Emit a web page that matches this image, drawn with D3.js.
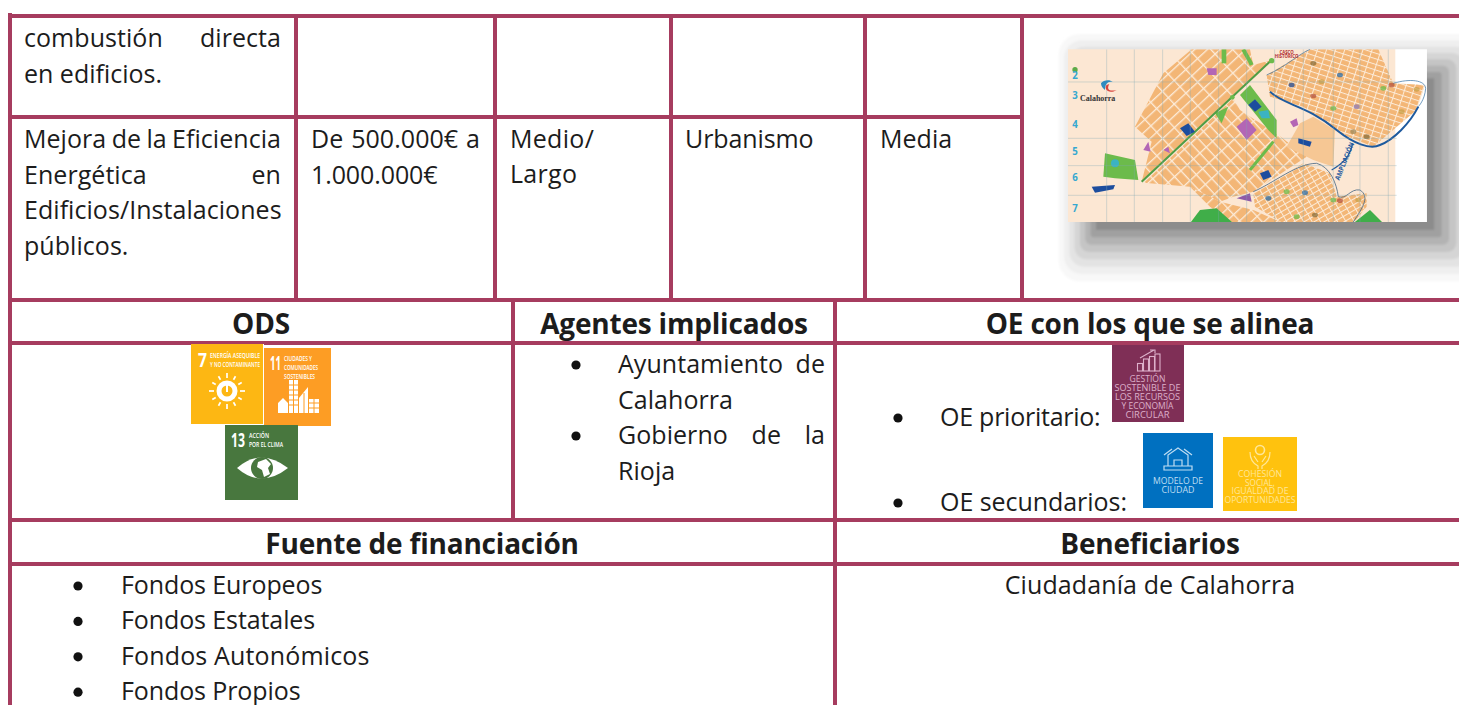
<!DOCTYPE html>
<html>
<head>
<meta charset="utf-8">
<script src="https://cdn.jsdelivr.net/npm/d3@7"></script>
<style>
  html, body { margin: 0; background: #fff; overflow: hidden; }
  text { font-family: "Open Sans", sans-serif; fill: #1c1c1c; }
</style>
</head>
<body>
<svg id="sheet" width="1459" height="705"></svg>
<script>
// table texts
const comb = ['combustión directa', 'en edificios.']
const mejora = ['Mejora de la Eficiencia', 'Energética en', 'Edificios/Instalaciones', 'públicos.']
const coste = ['De 500.000€ a', '1.000.000€']
const plazo = ['Medio/', 'Largo']
const area = ['Urbanismo']
const prioridad = ['Media']
const agentes = ['Ayuntamiento de', 'Calahorra', 'Gobierno de la', 'Rioja']
const fondos = ['Fondos Europeos', 'Fondos Estatales', 'Fondos Autonómicos', 'Fondos Propios']
const beneficiarios = ['Ciudadanía de Calahorra']
const headers = ['ODS', 'Agentes implicados', 'OE con los que se alinea', 'Fuente de financiación', 'Beneficiarios']
const oeLabels = ['OE prioritario:', 'OE secundarios:']
const mapRows = ['2', '3', '4', '5', '6', '7']
const shadowGrays = ['#8c8c8c', '#a0a0a0', '#b3b3b3', '#c5c5c5', '#d5d5d5', '#e3e3e3', '#efefef', '#f8f8f8']

const BORDER = '#A63C5F'
const FONT = 25
const LEAD = 35.4
const svg = d3.select('#sheet')

// table frame
const rows = { top: 16, r1: 117, r2: 300, r3: 343, r4: 520, r5: 564, end: 705 }
const cols = [296, 495, 671, 865, 1022]
const frame = svg.append('g').attr('stroke', BORDER).attr('stroke-width', 4)

function drawLine (x1, y1, x2, y2) {
  frame.append('line').attr('x1', x1).attr('y1', y1).attr('x2', x2).attr('y2', y2)
}

;[rows.top, rows.r2, rows.r3, rows.r4, rows.r5].forEach(y => drawLine(8, y, 1459, y))
drawLine(8, rows.r1, 1022, rows.r1)
drawLine(10, 13, 10, rows.end)
cols.forEach(x => drawLine(x, rows.top, x, rows.r2))
drawLine(513, rows.r2, 513, rows.r4)
drawLine(835, rows.r2, 835, rows.end)

// text helpers
function putText (g, str, x, y, opts = {}) {
  return g.append('text')
    .attr('x', x)
    .attr('y', y)
    .attr('font-size', opts.size || FONT)
    .attr('font-weight', opts.weight || 400)
    .attr('text-anchor', opts.anchor || 'start')
    .attr('letter-spacing', opts.spacing === undefined ? 0.05 : opts.spacing)
    .text(str)
}

// spreads the words of a line across x0..x1 the way a justified paragraph does
function justifyLine (g, str, x0, x1, y) {
  const words = str.split(' ')
  const nodes = words.map(w => putText(g, w, x0, y))
  const widths = nodes.map(n => n.node().getComputedTextLength())
  const gap = words.length > 1 ? (x1 - x0 - d3.sum(widths)) / (words.length - 1) : 0
  let x = x0
  nodes.forEach((n, i) => {
    n.attr('x', x)
    x += widths[i] + gap
  })
}

function bullet (g, x, y) {
  g.append('circle').attr('cx', x).attr('cy', y).attr('r', 4.6).attr('fill', '#111')
}

const body = svg.append('g')

justifyLine(body, comb[0], 24, 281, 47)
putText(body, comb[1], 24, 82.5, { spacing: 0 })

justifyLine(body, mejora[0], 24, 281, 148)
justifyLine(body, mejora[1], 24, 281, 183.5)
putText(body, mejora[2], 24, 219)
putText(body, mejora[3], 24, 254.5)

justifyLine(body, coste[0], 311, 480, 148)
putText(body, coste[1], 311, 183.5, { spacing: -0.1 })
plazo.forEach((t, i) => putText(body, t, 510, 148 + i * LEAD, { spacing: 0.3 }))
putText(body, area[0], 685, 148, { spacing: -0.1 })
putText(body, prioridad[0], 880, 148)

// headers
const bold = { size: 28, weight: 700, anchor: 'middle', spacing: -0.2 }
const headerPos = [[261, 333.5], [674, 333.5], [1150, 333.5], [422, 553.5], [1150, 553.5]]
headers.forEach((h, i) => putText(body, h, headerPos[i][0], headerPos[i][1], bold))

// agentes
justifyLine(body, agentes[0], 618, 825, 373)
putText(body, agentes[1], 618, 409)
justifyLine(body, agentes[2], 618, 825, 444)
putText(body, agentes[3], 618, 480)
bullet(body, 576, 365)
bullet(body, 576, 436)

// OE
putText(body, oeLabels[0], 940, 426, { spacing: -0.25 })
putText(body, oeLabels[1], 940, 511, { spacing: -0.05 })
bullet(body, 898, 418)
bullet(body, 898, 503)

// financiacion / beneficiarios
fondos.forEach((t, i) => {
  putText(body, t, 121, 594 + i * LEAD, { spacing: i === 2 ? 0.15 : -0.1 })
  bullet(body, 78, 586 + i * LEAD)
})
putText(body, beneficiarios[0], 1150, 594, { anchor: 'middle', spacing: 0.1 })

// map, drawn in 3x units so it lines up with the enlarged crop of the reference
const map = svg.append('g').attr('transform', 'translate(1020,10) scale(0.3333)')
const defs = svg.append('defs')
defs.append('filter').attr('id', 'soft').append('feGaussianBlur').attr('stdDeviation', 1.5)
defs.append('filter').attr('id', 'shadowSoft').append('feGaussianBlur').attr('stdDeviation', 3)
defs.append('clipPath').attr('id', 'mapClip')
  .append('rect').attr('x', 144).attr('y', 118).attr('width', 1077).attr('height', 518)

const shadow = map.append('g').attr('filter', 'url(#shadowSoft)')
shadowGrays.slice().reverse().forEach((c, k) => {
  const i = shadowGrays.length - 1 - k
  shadow.append('rect')
    .attr('x', 228 - 16 * i)
    .attr('y', 205 - 19 * i)
    .attr('width', 1243 + 22 * i - (228 - 16 * i))
    .attr('height', 660 + 22 * i - (205 - 19 * i))
    .attr('rx', i * 9)
    .attr('fill', c)
})

function streetPattern (id, w, h, angle, street) {
  const p = defs.append('pattern').attr('id', id)
    .attr('patternUnits', 'userSpaceOnUse').attr('width', w).attr('height', h)
    .attr('patternTransform', `rotate(${angle})`)
  p.append('rect').attr('width', w).attr('height', h).attr('fill', '#F3B676')
  p.append('rect').attr('width', street).attr('height', h).attr('fill', '#FCEBD8')
  p.append('rect').attr('width', w).attr('height', street).attr('fill', '#FCEBD8')
}
streetPattern('streetsWide', 48, 26, -43, 4)
streetPattern('streetsEast', 40, 26, 47, 4)
streetPattern('streetsOld', 26, 16, 18, 3)
streetPattern('streetsSouth', 22, 15, -30, 3)

const m = map.append('g').attr('clip-path', 'url(#mapClip)').append('g').attr('filter', 'url(#soft)')
m.append('rect').attr('x', 140).attr('y', 114).attr('width', 1085).attr('height', 526).attr('fill', '#fff')
m.append('rect').attr('x', 140).attr('y', 114).attr('width', 986).attr('height', 526).attr('fill', '#FCE7D3')

function poly (pts, fill) {
  return m.append('polygon').attr('points', pts).attr('fill', fill)
}
function path (d, stroke, w) {
  return m.append('path').attr('d', d).attr('fill', 'none').attr('stroke', stroke).attr('stroke-width', w)
}

poly('345,350 430,190 515,118 690,118 700,165 755,150 640,255 365,515 395,395', 'url(#streetsWide)')
poly('372,518 640,265 660,300 775,375 860,440 700,545 640,560 600,575 510,530', 'url(#streetsEast)')
poly('510,530 600,575 700,600 790,640 640,640 570,590', 'url(#streetsWide)')
poly('740,195 870,118 1075,118 1120,220 1215,225 1190,300 1060,410 960,370 850,290 750,260', 'url(#streetsOld)')
poly('700,550 850,460 930,490 950,560 1040,550 1040,590 1000,640 790,640 705,590', 'url(#streetsSouth)')
poly('840,340 880,320 945,360 940,470 880,450 800,410', '#F6C794')

// parks
poly('660,255 690,225 770,330 770,385 745,360', '#6CBB4B')
poly('255,430 345,450 355,510 285,505 250,500', '#6CBB4B')
poly('585,310 625,290 605,340', '#6CBB4B')
poly('510,640 540,600 590,595 640,640', '#3FAE49')
poly('1000,640 1050,600 1090,640', '#3FAE49')
path('M365,515 L755,150', '#4F9D45', 6)
path('M690,480 L760,395', '#6CBB4B', 9)
path('M612,118 L612,160', '#6CBB4B', 14)
path('M670,118 C680,140 690,150 695,165', '#6CBB4B', 12)
m.append('circle').attr('cx', 165).attr('cy', 179).attr('r', 8).attr('fill', '#5BAA47')
m.append('circle').attr('cx', 755).attr('cy', 152).attr('r', 8).attr('fill', '#6CBB4B')
m.append('circle').attr('cx', 637).attr('cy', 262).attr('r', 7).attr('fill', '#6CBB4B')
m.append('circle').attr('cx', 285).attr('cy', 460).attr('r', 12).attr('fill', '#3BB3C3')

// buildings
poly('650,350 680,325 710,360 680,390', '#B366B5')
poly('810,335 830,325 835,345 820,352', '#B366B5')
poly('370,420 385,395 392,425', '#B366B5')
poly('430,420 445,410 450,430', '#B366B5')
poly('650,565 690,550 695,575', '#8E5AA8')
poly('560,175 590,175 590,195 565,195', '#B366B5')
poly('480,355 505,340 525,365 500,378', '#1F4E9E')
poly('685,285 705,268 725,290 705,305', '#1F4E9E')
poly('835,385 875,395 870,410 835,400', '#1F4E9E')
poly('720,490 745,480 755,500 730,510', '#1F4E9E')
poly('215,530 285,525 280,538 225,548', '#1F4E9E')
poly('715,305 745,300 750,325 725,325', '#3BB3C3')

// old town speckles
const speckles = [[880, 160, '#8A6D3B'], [905, 215, '#C9A24B'], [960, 195, '#2B6DA8'], [1010, 290, '#8E7BB5'], [1040, 380, '#8A6D3B'],
  [940, 295, '#6CBB4B'], [1090, 235, '#6CBB4B'], [1115, 225, '#B5533C'], [1000, 365, '#A08A5A'], [815, 225, '#1F4E9E'],
  [880, 258, '#B5533C'], [1145, 305, '#C9A24B'], [1190, 238, '#C9A24B'], [800, 545, '#6CBB4B'], [855, 548, '#2B6DA8'],
  [940, 570, '#6CBB4B'], [960, 572, '#B5533C'], [885, 615, '#8A6D3B'], [830, 620, '#6CBB4B'], [745, 565, '#2B6DA8'], [1015, 570, '#C9A24B']]
speckles.forEach(s => {
  m.append('ellipse').attr('cx', s[0]).attr('cy', s[1]).attr('rx', 9).attr('ry', 7).attr('fill', s[2]).attr('opacity', 0.75)
})

// river and paths
path('M750,245 C790,285 860,285 950,360 C1000,400 1050,420 1080,405 C1120,390 1170,340 1195,290', '#1F5A9E', 6)
path('M740,195 C790,175 840,130 870,118', '#2C6A9E', 2)
path('M1120,220 C1170,205 1215,210 1217,235 C1215,270 1195,290 1195,290', '#2C6A9E', 2)
path('M700,545 C760,520 830,460 890,460 C930,470 950,520 955,560 C980,570 990,535 1020,540 C1050,560 1030,590 1000,636', '#4A6A85', 2.5)
path('M935,480 C970,460 990,440 998,400', '#1F5A9E', 4)

// grid
const gridH = [216, 385, 467, 556]
const gridV = [260, 343, 428, 511, 596, 680, 764, 850, 940, 1020, 1105]
gridH.forEach(y => path(`M144,${y} H1130`, '#7FA9B5', 1.6).attr('opacity', 0.65))
gridV.forEach(x => path(`M${x},118 V636`, '#7FA9B5', 1.6).attr('opacity', 0.65))

// map labels
const mapText = map.append('g').attr('clip-path', 'url(#mapClip)')
const rowLabelY = [208, 266, 353, 436, 514, 606]
mapRows.forEach((t, i) => {
  mapText.append('text').attr('x', 165).attr('y', rowLabelY[i]).attr('text-anchor', 'middle')
    .attr('font-size', 29).attr('font-weight', 700).style('fill', '#35A8D0').text(t)
})
mapText.append('text').attr('x', 180).attr('y', 274).attr('font-size', 25).attr('font-weight', 700)
  .attr('textLength', 106).attr('lengthAdjust', 'spacingAndGlyphs').style('font-family', 'Liberation Serif').style('fill', '#333').text('Calahorra')
mapText.append('text').attr('x', 800).attr('y', 132).attr('font-size', 13).attr('font-weight', 700)
  .attr('text-anchor', 'middle').style('fill', '#B02A30').text('CASCO')
mapText.append('text').attr('x', 800).attr('y', 144).attr('font-size', 13).attr('font-weight', 700)
  .attr('text-anchor', 'middle').style('fill', '#B02A30').text('HISTÓRICO')
mapText.append('text').attr('transform', 'translate(958,512) rotate(-68)').attr('font-size', 21).attr('font-weight', 700)
  .attr('textLength', 120).attr('lengthAdjust', 'spacingAndGlyphs').style('fill', '#1F5A9E').text('AMPLIACIÓN')
map.append('path').attr('d', 'M260,225 C250,235 265,255 290,240 C270,245 258,240 268,222 Z').attr('fill', '#D8453E')
map.append('path').attr('d', 'M243,220 C250,210 270,208 278,216 C265,212 255,220 255,240 C248,235 243,228 243,220 Z').attr('fill', '#2E8BC0')

// icons
const icons = svg.append('g')
function tile (x, y, w, h, fill) {
  return icons.append('rect').attr('x', x).attr('y', y).attr('width', w).attr('height', h).attr('fill', fill)
}
function tinyText (str, x, y, len, size, fill, anchor, weight) {
  const t = icons.append('text').attr('x', x).attr('y', y).attr('font-size', size)
    .attr('font-weight', weight || 600).attr('text-anchor', anchor || 'start')
    .attr('textLength', len).attr('lengthAdjust', 'spacingAndGlyphs').text(str)
  t.style('fill', fill)
  return t
}

tile(191, 344, 72, 80, '#FDB713')
tile(263, 344, 1, 80, '#fff')
tile(264, 348, 67, 78, '#FD9D24')
tile(225, 425, 73, 75, '#48773E')

// SDG 7
tinyText('7', 198, 367, 9, 20, '#fff', 'start', 700)
tinyText('ENERGÍA ASEQUIBLE', 210, 358, 50, 7, '#fff')
tinyText('Y NO CONTAMINANTE', 210, 367, 50, 7, '#fff')
const sun = icons.append('g').attr('transform', 'translate(227,391)')
sun.append('circle').attr('r', 8).attr('fill', 'none').attr('stroke', '#fff').attr('stroke-width', 5)
sun.append('line').attr('y1', -6).attr('y2', 1).attr('stroke', '#fff').attr('stroke-width', 2)
d3.range(12).forEach(i => {
  sun.append('line').attr('y1', -13).attr('y2', i % 3 === 0 ? -18 : -17)
    .attr('stroke', '#fff').attr('stroke-width', 1.7).attr('transform', `rotate(${i * 30})`)
})

// SDG 11
tinyText('11', 270, 370, 11, 20, '#fff', 'start', 700)
tinyText('CIUDADES Y', 284, 361, 28, 7, '#fff')
tinyText('COMUNIDADES', 284, 370, 34, 7, '#fff')
tinyText('SOSTENIBLES', 284, 378.5, 31, 7, '#fff')
icons.append('path').attr('fill', '#fff').attr('d', 'M278,413 V403 L283,398 L288,403 V413 Z M289,413 V380 H298 V413 Z M299,413 V398 L308,387 V413 Z M309,413 V399 H319 V413 Z')
const cityDots = icons.append('g').attr('stroke', '#FD9D24').attr('stroke-width', 1)
;[385, 390, 395, 400, 405].forEach(y => cityDots.append('line').attr('x1', 289).attr('x2', 298).attr('y1', y).attr('y2', y))
;[403, 408].forEach(y => cityDots.append('line').attr('x1', 309).attr('x2', 319).attr('y1', y).attr('y2', y))
cityDots.append('line').attr('x1', 293.5).attr('x2', 293.5).attr('y1', 380).attr('y2', 413)
cityDots.append('line').attr('x1', 314).attr('x2', 314).attr('y1', 399).attr('y2', 413)
cityDots.append('line').attr('x1', 304).attr('x2', 304).attr('y1', 393).attr('y2', 413)

// SDG 13
tinyText('13', 231, 447, 14, 20, '#fff', 'start', 700)
tinyText('ACCIÓN', 249, 438, 20, 7, '#fff')
tinyText('POR EL CLIMA', 249, 447, 34, 7, '#fff')
icons.append('path').attr('fill', '#fff').attr('d', 'M237,468 Q261,447 288,468 Q261,489 237,468 Z')
icons.append('circle').attr('cx', 262).attr('cy', 468).attr('r', 11).attr('fill', '#48773E')
icons.append('path').attr('fill', '#fff').attr('d', 'M258,462 L266,459 L271,464 L268,468 L270,474 L264,477 L262,470 L257,467 Z')

// OE tiles
tile(1112, 345, 72, 77, '#7F2F56')
const pink = '#DDB0CA'
const bars = icons.append('g').attr('fill', 'none').attr('stroke', pink).attr('stroke-width', 1.1)
;[[1137.5, 363.5, 5, 7.5], [1143.5, 359, 5, 12], [1149.5, 356.5, 5, 14.5], [1155, 354, 5, 17]].forEach(b => {
  bars.append('rect').attr('x', b[0]).attr('y', b[1]).attr('width', b[2]).attr('height', b[3])
})
bars.append('path').attr('d', 'M1140,358 L1154,350 M1150,350 H1155 V353')
;['GESTIÓN', 'SOSTENIBLE DE', 'LOS RECURSOS', 'Y ECONOMÍA', 'CIRCULAR'].forEach((t, i) => {
  tinyText(t, 1147.5, 382 + i * 9.1, [36, 66, 65, 52, 44][i], 9, pink, 'middle', 500)
})

tile(1143, 433, 70, 75, '#0070C0')
const pale = '#BFDDF2'
icons.append('path').attr('fill', 'none').attr('stroke', pale).attr('stroke-width', 1.2)
  .attr('transform', 'translate(0,3)')
  .attr('d', 'M1168,463 V452 L1178,445 L1188,452 V463 M1164,463 H1192 V467 H1164 Z M1174,463 V457 H1182 V463 M1164,452 L1172,446 M1192,452 L1184,446')
;['MODELO DE', 'CIUDAD'].forEach((t, i) => {
  tinyText(t, 1178, 484 + i * 9.2, [50, 33][i], 9.5, pale, 'middle', 500)
})

tile(1223, 437, 74, 74, '#FFC20E')
const butter = '#FFE79A'
icons.append('path').attr('fill', 'none').attr('stroke', butter).attr('stroke-width', 1.2)
  .attr('d', 'M1250,452 C1250,460 1254,464 1258,466 V469 M1270,452 C1270,460 1266,464 1262,466 V469 M1254,456 L1258,462 M1266,456 L1262,462')
icons.append('circle').attr('cx', 1260).attr('cy', 450).attr('r', 4.5).attr('fill', 'none').attr('stroke', butter).attr('stroke-width', 1.6)
;['COHESIÓN', 'SOCIAL,', 'IGUALDAD DE', 'OPORTUNIDADES'].forEach((t, i) => {
  tinyText(t, 1260, 477 + i * 8.7, [44, 30, 57, 71][i], 8.5, butter, 'middle', 500)
})
</script>
</body>
</html>
